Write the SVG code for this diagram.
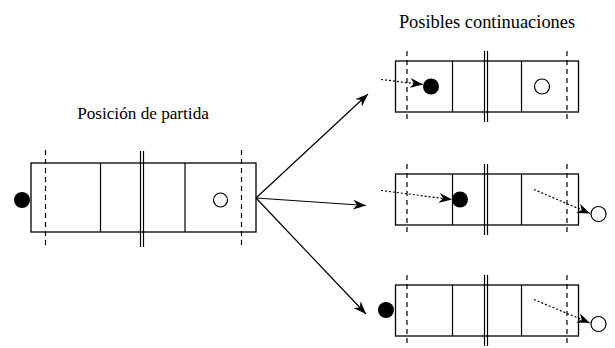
<svg xmlns="http://www.w3.org/2000/svg" width="615" height="348" viewBox="0 0 615 348">
<style>
.box{fill:none;stroke:#000;stroke-width:1.3}
.ln{stroke:#000;stroke-width:1.2;fill:none}
.dash{stroke:#000;stroke-width:1.2;stroke-dasharray:5,4;fill:none}
.dot{stroke:#000;stroke-width:1.2;stroke-dasharray:2,2;fill:none}
.blk{fill:#000}
.wht{fill:#fff;stroke:#000;stroke-width:1.2}
</style>
<defs>
<marker id="ah" markerWidth="14" markerHeight="10" refX="13" refY="5" orient="auto" markerUnits="userSpaceOnUse">
<path d="M0,0 L13,5 L0,10 L4,5 Z" fill="#000"/>
</marker>
<g id="tpl">
<rect class="box" x="0" y="0" width="183" height="51"/>
<line class="ln" x1="57" y1="0" x2="57" y2="51"/>
<line class="ln" x1="126" y1="0" x2="126" y2="51"/>
<line class="ln" x1="89" y1="-10" x2="89" y2="61"/>
<line class="ln" x1="92" y1="-10" x2="92" y2="61"/>
<line class="dash" x1="11.5" y1="-10" x2="11.5" y2="61"/>
<line class="dash" x1="171.5" y1="-10" x2="171.5" y2="61"/>
</g>
</defs>
<text x="143" y="119" text-anchor="middle" font-family="'Liberation Serif', 'Times New Roman', serif" font-size="17.2" fill="#000">Posición de partida</text>
<text x="487" y="28" text-anchor="middle" font-family="'Liberation Serif', 'Times New Roman', serif" font-size="18.4" fill="#000">Posibles continuaciones</text>
<g id="start">
<rect class="box" x="31" y="163" width="225" height="69"/>
<line class="ln" x1="100.5" y1="163" x2="100.5" y2="232"/>
<line class="ln" x1="185" y1="163" x2="185" y2="232"/>
<line class="ln" x1="140.5" y1="151" x2="140.5" y2="247"/>
<line class="ln" x1="143.5" y1="151" x2="143.5" y2="247"/>
<line class="dash" x1="45.5" y1="150" x2="45.5" y2="248"/>
<line class="dash" x1="241.5" y1="150" x2="241.5" y2="248"/>
<circle class="blk" cx="22" cy="200" r="8"/>
<circle class="wht" cx="220.5" cy="200" r="7"/>
</g>
<g id="cont1">
<use href="#tpl" x="395.5" y="61"/>
<circle class="blk" cx="431" cy="86.5" r="8"/>
<circle class="wht" cx="542" cy="86.5" r="7.5"/>
</g>
<g id="cont2">
<use href="#tpl" x="395.5" y="174"/>
<circle class="blk" cx="460" cy="199.5" r="8"/>
<circle class="wht" cx="598.5" cy="214" r="7.5"/>
</g>
<g id="cont3">
<use href="#tpl" x="395.5" y="285"/>
<circle class="blk" cx="386" cy="310" r="8"/>
<circle class="wht" cx="598.5" cy="324" r="7.5"/>
</g>
<g id="connectors">
<line class="ln" x1="256" y1="198" x2="368" y2="94" marker-end="url(#ah)"/>
<line class="ln" x1="256" y1="198" x2="366" y2="205.5" marker-end="url(#ah)"/>
<line class="ln" x1="256" y1="198" x2="366" y2="314" marker-end="url(#ah)"/>
<line class="dot" x1="381" y1="79.5" x2="423" y2="84.5" marker-end="url(#ah)"/>
<line class="dot" x1="381" y1="190.5" x2="452" y2="199.5" marker-end="url(#ah)"/>
<line class="dot" x1="534" y1="189.5" x2="590" y2="213.5" marker-end="url(#ah)"/>
<line class="dot" x1="534" y1="299.5" x2="590" y2="323" marker-end="url(#ah)"/>
</g>
</svg>
